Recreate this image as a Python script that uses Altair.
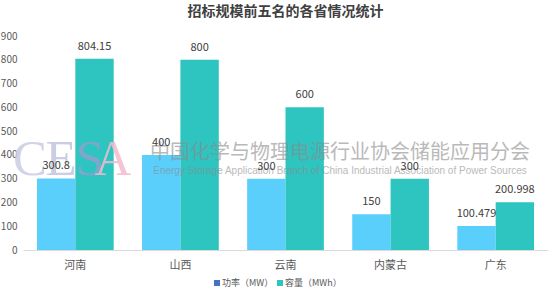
import altair as alt
import pandas as pd

provinces = ["河南", "山西", "云南", "内蒙古", "广东"]
power_mw = [300.8, 400, 300, 150, 100.479]
capacity_mwh = [804.15, 800, 600, 300, 200.998]
power_labels = ["300.8", "400", "300", "150", "100.479"]
capacity_labels = ["804.15", "800", "600", "300", "200.998"]
series_names = ["功率（MW）", "容量（MWh）"]
bar_colors = ["#5BCFFB", "#2EC4C0"]
legend_colors = ["#4472C4", "#2EC4C0"]
y_ticks = [0, 100, 200, 300, 400, 500, 600, 700, 800, 900]

rows = []
for i, p in enumerate(provinces):
    rows.append({"省份": p, "系列": series_names[0], "值": power_mw[i], "标签": power_labels[i]})
    rows.append({"省份": p, "系列": series_names[1], "值": capacity_mwh[i], "标签": capacity_labels[i]})
df = pd.DataFrame(rows)

FONT = "Noto Sans CJK SC"

x = alt.X("省份:N", sort=provinces, title=None,
          scale=alt.Scale(paddingInner=0.27, paddingOuter=0.133),
          axis=alt.Axis(labelAngle=0, labelFont=FONT, labelFontSize=11, labelColor="#595959",
                        domainColor="#D9D9D9", ticks=False, labelPadding=9))
xo = alt.XOffset("系列:N", sort=series_names)
y = alt.Y("值:Q", title=None,
          scale=alt.Scale(domain=[0, 900], nice=False),
          axis=alt.Axis(values=y_ticks, grid=False, domain=False, ticks=False,
                        labelFont=FONT, labelFontSize=10, labelColor="#595959", labelPadding=6))
color = alt.Color("系列:N", sort=series_names,
                  scale=alt.Scale(domain=series_names, range=bar_colors), legend=None)

base = alt.Chart(df)
bars = base.mark_bar().encode(x=x, xOffset=xo, y=y, color=color)
labels = base.mark_text(baseline="bottom", dy=-7, font=FONT, fontSize=11, color="#404040").encode(
    x=x, xOffset=xo, y=y, text="标签:N")

# watermark
wm_letters = ["C", "E", "S", "A"]
wm_x = [7, 38, 67, 90]
wm_colors = ["#C9CDE3", "#C2C6DE", "#8FA2CC", "#F2BCCD"]
wm_df = pd.DataFrame({"t": wm_letters, "x": wm_x, "c": wm_colors})
cesa = alt.Chart(wm_df).mark_text(font="Liberation Serif", fontSize=51, baseline="alphabetic",
                                  opacity=0.85).encode(
    x=alt.X("x:Q", scale=None), y=alt.value(139), text="t:N",
    color=alt.Color("c:N", scale=None))
cn_wm = alt.Chart(pd.DataFrame({"t": ["中国化学与物理电源行业协会储能应用分会"]})).mark_text(
    font=FONT, fontSize=20, color="#8C8C8C", opacity=0.6, baseline="alphabetic").encode(
    x=alt.value(317), y=alt.value(123), text="t:N")
en_wm = alt.Chart(pd.DataFrame({"t": ["Energy Storage Application Branch of China Industrial Association of Power Sources"]})).mark_text(
    font="Liberation Sans", fontSize=10, color="#8C8C8C", opacity=0.6, baseline="alphabetic").encode(
    x=alt.value(317), y=alt.value(138), text="t:N")

# legend
leg_df = pd.DataFrame({"name": series_names, "c": legend_colors, "sx": [194, 257], "tx": [199, 262]})
leg_sq = alt.Chart(leg_df).mark_square(size=36, opacity=1).encode(
    x=alt.X("sx:Q", scale=None), y=alt.value(247), color=alt.Color("c:N", scale=None))
leg_tx = alt.Chart(leg_df).mark_text(align="left", baseline="middle", font=FONT, fontSize=9,
                                     color="#595959").encode(
    x=alt.X("tx:Q", scale=None), y=alt.value(247), text="name:N")

chart = alt.layer(bars, cesa, cn_wm, en_wm, labels, leg_sq, leg_tx).properties(
    width=525, height=214,
    background="white",
    title=alt.TitleParams("招标规模前五名的各省情况统计", font=FONT, fontSize=14, fontWeight="bold",
                          color="#404040", anchor="middle", offset=12),
    autosize=alt.AutoSizeParams(type="none"),
    padding={"left": 23, "top": 36, "right": 5, "bottom": 44},
).configure_view(stroke=None)

chart.save("out.html", embed_options={"renderer": "svg", "actions": False})
